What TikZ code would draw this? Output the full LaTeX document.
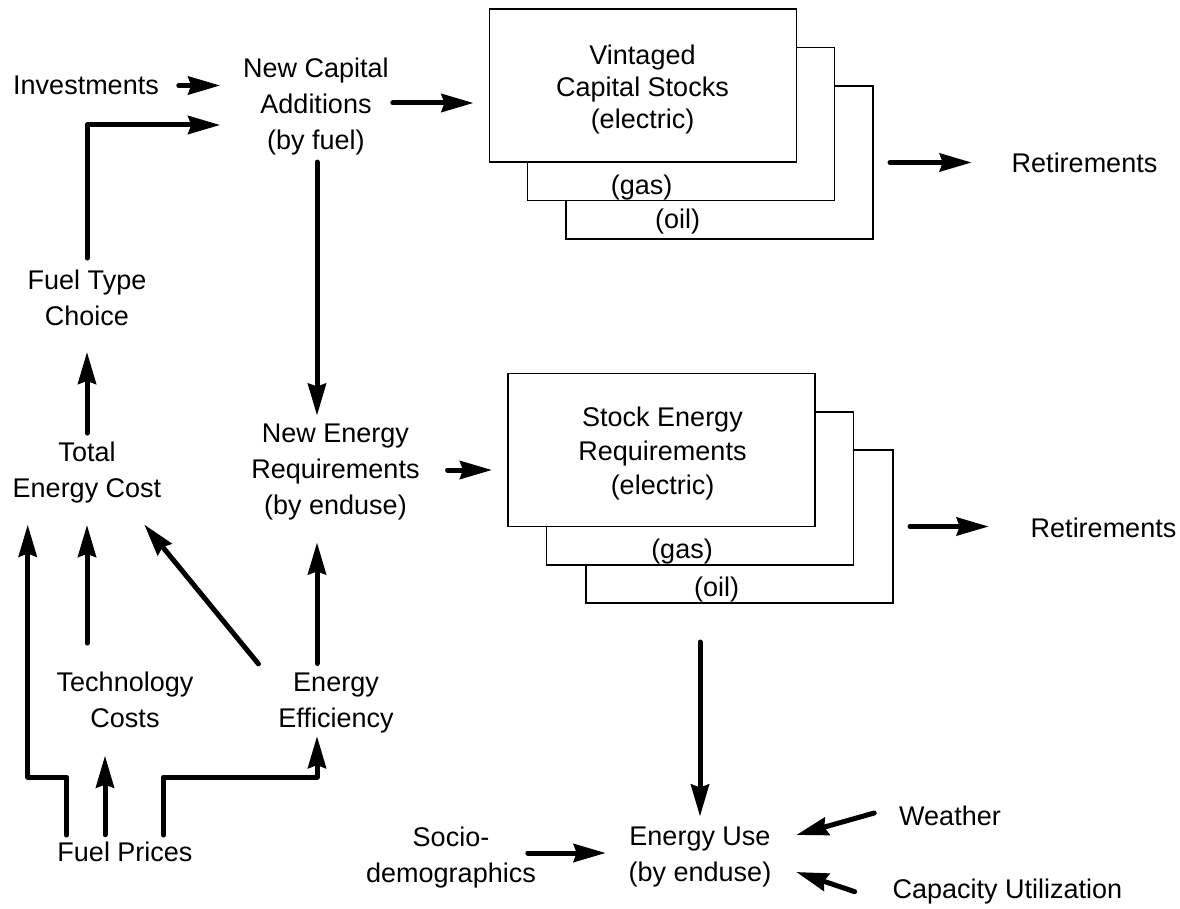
\documentclass[tikz,border=0pt]{standalone}
\usepackage{fontspec}
\setmainfont{Liberation Sans}
\usetikzlibrary{arrows.meta,calc}
\begin{document}
\begin{tikzpicture}[x=1pt,y=-1pt,
  txt/.style={inner sep=0pt, outer sep=0pt, align=center, font=\fontsize{27}{36}\selectfont},
  stk/.style={draw, line width=1.6pt, fill=white, minimum width=307pt, minimum height=153pt, inner sep=0pt, outer sep=0pt},
  arr/.style={line width=5pt, line cap=round, line join=round, -{Stealth[length=32pt,width=18pt,inset=3pt]}}]
\useasboundingbox (0,0) rectangle (1180,909);
% text nodes
\node[txt] (inv) at (86,85.5) {Investments};
\node[txt] (nca) at (316,106.5) {New Capital\\Additions\\(by fuel)};
\node[stk] (vbO) at (719.5,162.5) {};
\node[stk] (vbG) at (681,124) {};
\node[stk] (vbE) at (643,85.5) {};
\node[txt, font=\fontsize{27}{32}\selectfont] (vtxt) at (642.5,89.5) {Vintaged\\Capital Stocks\\(electric)};
\node[txt] (vgas) at (641.7,187.5) {(gas)};
\node[txt] (voil) at (677.5,221.7) {(oil)};
\node[txt] (ret1) at (1084.5,163) {Retirements};
\node[txt] (ftc) at (87,298) {Fuel Type\\Choice};
\node[txt] (tec) at (87,473) {Total\\Energy Cost};
\node[txt] (ner) at (335.5,472.3) {New Energy\\Requirements\\(by enduse)};
\node[stk] (sbO) at (739.5,526.5) {};
\node[stk] (sbG) at (700,488.5) {};
\node[stk] (sbE) at (661.5,450) {};
\node[txt, font=\fontsize{27}{34}\selectfont] (stxt) at (662.5,453.5) {Stock Energy\\Requirements\\(electric)};
\node[txt] (sgas) at (682,551.7) {(gas)};
\node[txt] (soil) at (716.7,590) {(oil)};
\node[txt] (ret2) at (1103.5,528) {Retirements};
\node[txt] (tc) at (125,700) {Technology\\Costs};
\node[txt] (ee) at (336,703) {Energy\\Efficiency};
\node[txt] (fp) at (125,852) {Fuel Prices};
\node[txt] (socio) at (451,858) {Socio-\\demographics};
\node[txt] (eu) at (700,857) {Energy Use\\(by enduse)};
\node[txt] (weather) at (950,816) {Weather};
\node[txt] (cu) at (1007.5,891.7) {Capacity Utilization};
% connectors
\draw[arr, shorten <=20pt, shorten >=23pt] (inv.east) -- (inv.east -| nca.west);
\draw[arr, shorten <=12pt, shorten >=23pt] (ftc.north) |- ([yshift=-18.5pt]nca.west);
\draw[arr, shorten <=4pt, shorten >=16pt] ([yshift=3.5pt]nca.east) -- ([yshift=3.5pt]nca.east -| vbE.west);
\draw[arr, shorten <=7pt, shorten >=8.6pt] ([xshift=1pt]nca.south) -- ([xshift=1pt]nca.south |- ner.north);
\draw[arr, shorten <=28pt, shorten >=16pt] ([yshift=2.3pt]ner.east) -- ([yshift=2.3pt]ner.east -| sbE.west);
\draw[arr, shorten <=17pt, shorten >=40pt] (vbO.east) -- (vbO.east -| ret1.west);
\draw[arr, shorten <=17pt, shorten >=42pt] (sbO.east) -- (sbO.east -| ret2.west);
\draw[arr, shorten <=9.3pt, shorten >=26pt] (tec.north) -- (ftc.south);
\draw[arr, shorten <=29pt, shorten >=21.3pt] (tc.north -| tec.south) -- (tec.south);
\draw[arr] ($(ee.north west)+(-20,-9)$) -- ($(tec.south east)+(-17,21)$);
\draw[arr, shorten <=9.4pt, shorten >=22pt] ([xshift=-19pt]ee.north) -- ([xshift=-19pt]ee.north |- ner.south);
\draw[arr] ($(fp.north west)+(9,-7)$) -- ++(0,-58) -| ($(tec.south west)+(15,21)$);
\draw[arr, shorten <=7.3pt, shorten >=27.7pt] ([xshift=-20pt]fp.north) -- ([xshift=-20pt]tc.south);
\draw[arr] ($(fp.north east)+(-29,-7)$) -- ++(0,-58) -| ($(ee.south)+(-19,3)$);
\draw[arr, shorten <=77pt, shorten >=10.4pt] (sbG.south) -- (sbG.south |- eu.north);
\draw[arr, shorten <=-8pt, shorten >=23pt] ([yshift=5pt]socio.east) -- ([yshift=5pt]socio.east -| eu.west);
\draw[arr] ($(weather.west)+(-25,-3)$) -- ($(eu.east)+(25,-22)$);
\draw[arr] ($(cu.west)+(-38,0)$) -- ($(eu.east)+(25,15)$);
\end{tikzpicture}
\end{document}
